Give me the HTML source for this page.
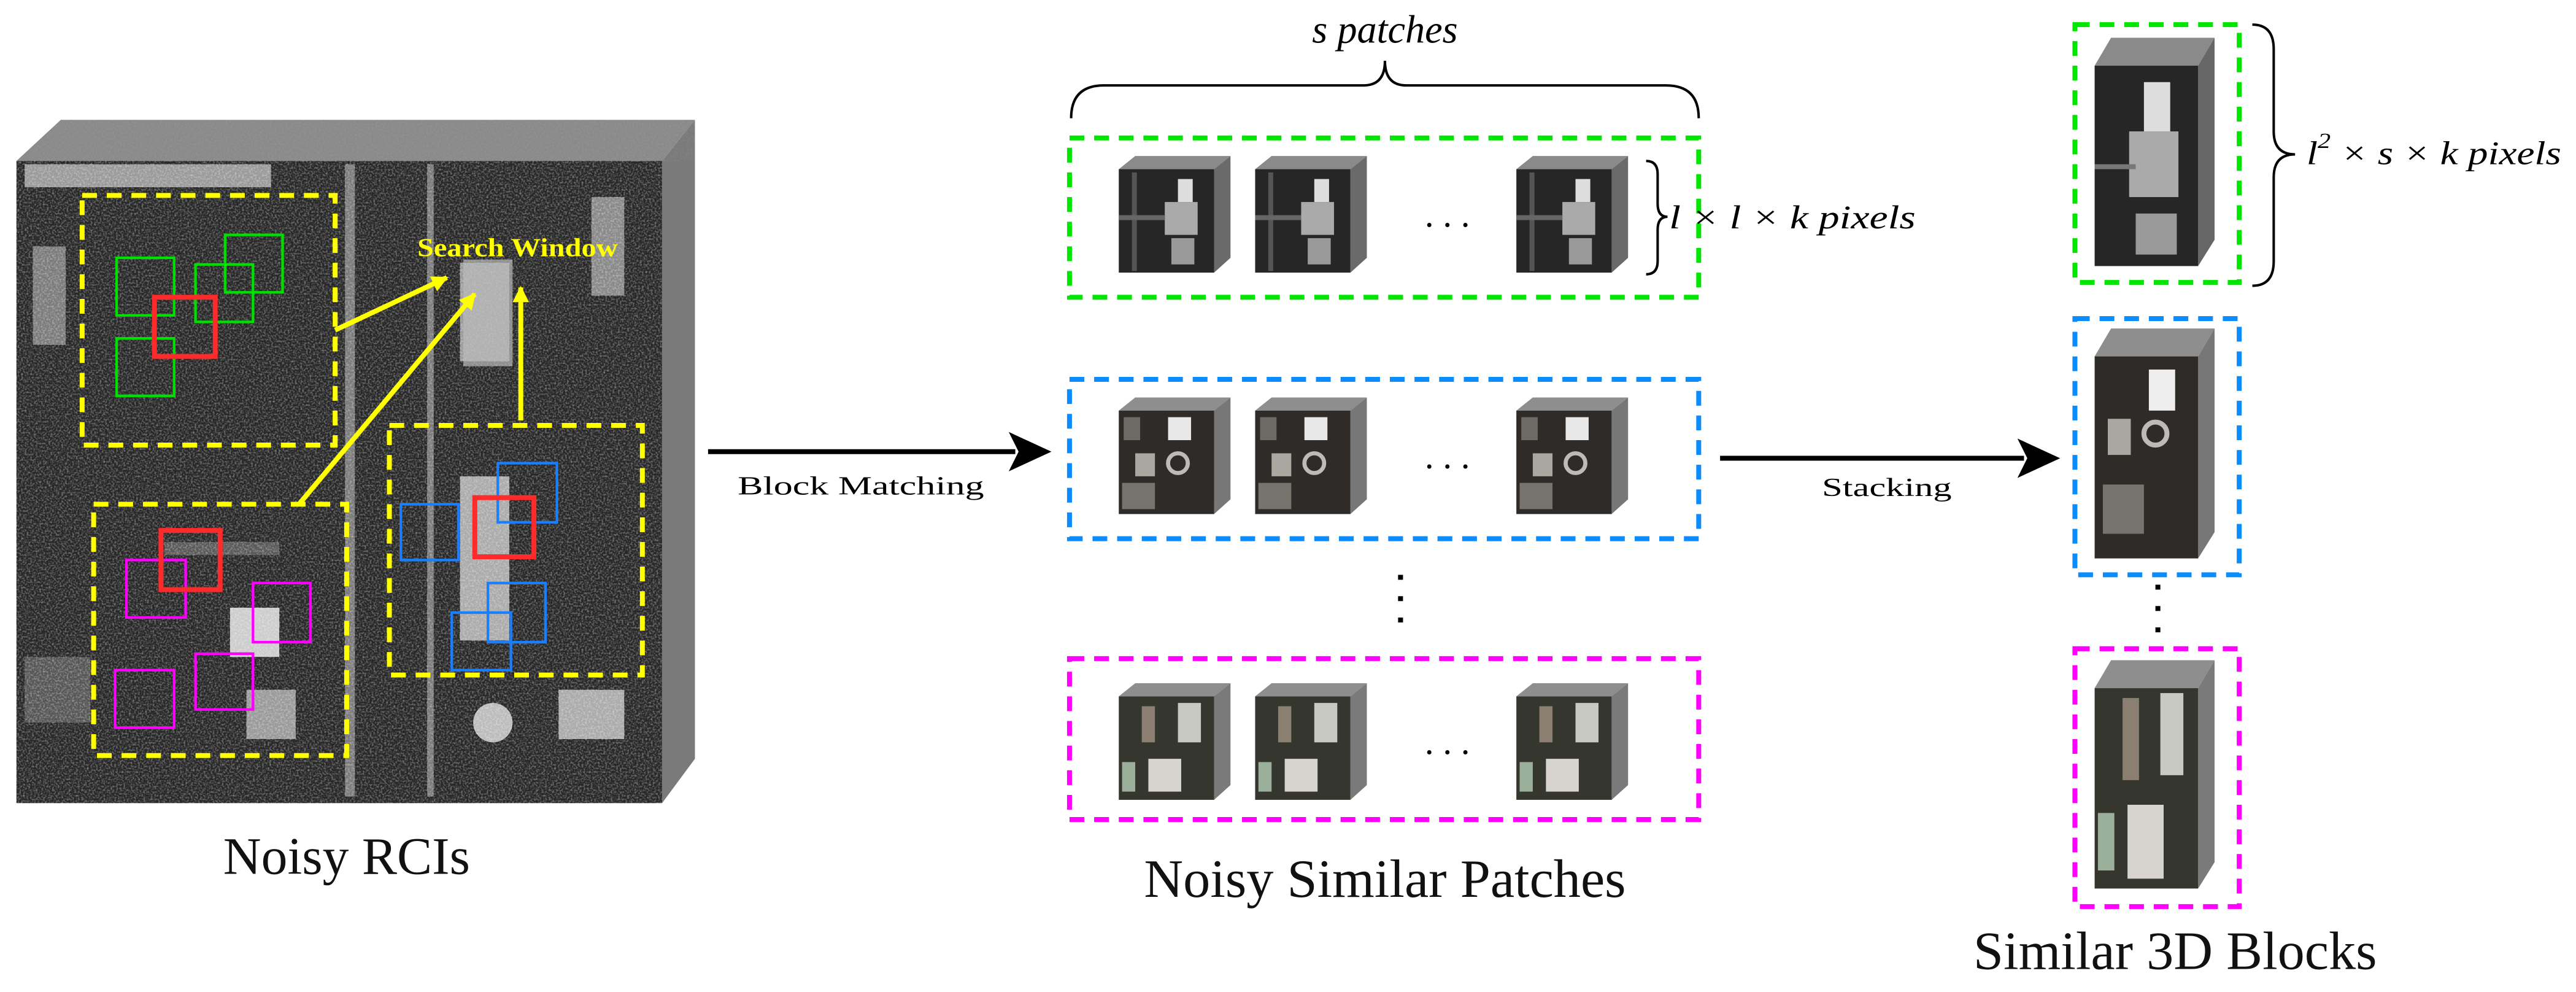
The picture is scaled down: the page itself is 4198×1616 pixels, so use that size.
<!DOCTYPE html>
<html><head><meta charset="utf-8"><style>html,body{margin:0;padding:0;background:#fff}svg{display:block}svg text{font-family:"Liberation Serif","DejaVu Serif",serif}</style></head>
<body>
<svg width="4198" height="1616" viewBox="0 0 1568 604" preserveAspectRatio="none" xmlns="http://www.w3.org/2000/svg">
<defs>
<filter id="n" x="0" y="0" width="100%" height="100%">
<feTurbulence type="fractalNoise" baseFrequency="0.9" numOctaves="2" seed="3"/>
<feColorMatrix type="matrix" values="0 0 0 0 1  0 0 0 0 1  0 0 0 0 1  0 0 0 1.1 -0.45"/>
</filter>
<marker id="ah" markerWidth="10" markerHeight="10" refX="9" refY="5" orient="auto" markerUnits="userSpaceOnUse"><path d="M0,0 L10,5 L0,10 Z" fill="#ff0"/></marker>
<g id="pg">
<polygon points="0,8 10,0 68,0 58,8" fill="#8a8a8a"/>
<polygon points="58,8 68,0 68,62 58,71" fill="#6a6a6a"/>
<rect x="0" y="8" width="58" height="63" fill="#262626"/>
<rect x="8" y="10" width="3" height="60" fill="#555"/>
<rect x="36" y="14" width="9" height="14" fill="#ddd"/>
<rect x="28" y="28" width="20" height="20" fill="#aaa"/>
<rect x="32" y="50" width="14" height="16" fill="#999"/>
<rect x="0" y="36" width="28" height="3" fill="#666"/>
</g>
<g id="pb">
<polygon points="0,8 10,0 68,0 58,8" fill="#8e8e8e"/>
<polygon points="58,8 68,0 68,62 58,71" fill="#777"/>
<rect x="0" y="8" width="58" height="63" fill="#2e2b29"/>
<rect x="3" y="12" width="10" height="14" fill="#6e6a66"/>
<rect x="30" y="12" width="14" height="14" fill="#e8e8e8"/>
<rect x="10" y="34" width="12" height="14" fill="#aaa6a0"/>
<circle cx="36" cy="40" r="6" fill="none" stroke="#bbb" stroke-width="2.5"/>
<rect x="2" y="52" width="20" height="16" fill="#77736d"/>
</g>
<g id="pm">
<polygon points="0,8 10,0 68,0 58,8" fill="#8e8e8e"/>
<polygon points="58,8 68,0 68,62 58,71" fill="#7a7a7a"/>
<rect x="0" y="8" width="58" height="63" fill="#35372f"/>
<rect x="14" y="14" width="8" height="22" fill="#8a7f70"/>
<rect x="36" y="12" width="14" height="24" fill="#c9c9c4"/>
<rect x="18" y="46" width="20" height="20" fill="#d6d4cc"/>
<rect x="2" y="48" width="8" height="18" fill="#9ab09a"/>
</g>
</defs>

<polygon points="10,98 37,73 423,73 403,98" fill="#8a8a8a"/>
<polygon points="403,98 423,73 423,462 403,489" fill="#7a7a7a"/>
<rect x="10" y="98" width="393" height="391" fill="#262626"/>
<g fill="#7a7a7a">
<rect x="20" y="150" width="20" height="60"/><rect x="100" y="330" width="70" height="8" opacity=".6"/>
<rect x="210" y="100" width="6" height="385"/><rect x="260" y="100" width="4" height="385"/>
<rect x="140" y="370" width="30" height="30" fill="#ccc"/><rect x="150" y="420" width="30" height="30" fill="#999"/>
<rect x="280" y="160" width="30" height="60" fill="#999"/><rect x="280" y="290" width="30" height="100" fill="#aaa"/>
<circle cx="300" cy="440" r="12" fill="#bbb"/><rect x="340" y="420" width="40" height="30" fill="#aaa"/>
<rect x="15" y="400" width="40" height="40" fill="#555"/><rect x="360" y="120" width="20" height="60" fill="#888"/>
<rect x="15" y="100" width="150" height="14" fill="#999"/>
</g>
<rect x="10" y="98" width="393" height="391" filter="url(#n)" opacity="0.85"/>
<polygon points="10,98 37,73 423,73 403,98" fill="#000" opacity=".15" filter="url(#n)"/>
<g fill="none" stroke="#ffff00" stroke-width="3" stroke-dasharray="9,6">
<rect x="50" y="119" width="154" height="152"/>
<rect x="57" y="307" width="154" height="153"/>
<rect x="237" y="259" width="154" height="152"/>
</g>
<rect x="282" y="158" width="30" height="65" fill="#bbb" opacity=".7"/>
<g fill="none" stroke-width="1.6">
<g stroke="#00e000"><rect x="71" y="157" width="35" height="35"/><rect x="71" y="206" width="35" height="35"/><rect x="119" y="161" width="35" height="35"/><rect x="137" y="143" width="35" height="35"/></g>
<g stroke="#f0f"><rect x="77" y="341" width="36" height="35"/><rect x="154" y="355" width="35" height="36"/><rect x="70" y="408" width="36" height="35"/><rect x="119" y="398" width="35" height="34"/></g>
<g stroke="#1a7fff"><rect x="244" y="307" width="35" height="34"/><rect x="303" y="282" width="36" height="36"/><rect x="297" y="355" width="35" height="36"/><rect x="275" y="373" width="36" height="35"/></g>
<g stroke="#ff2a2a" stroke-width="3"><rect x="94" y="181" width="37" height="36"/><rect x="98" y="323" width="36" height="36"/><rect x="289" y="303" width="36" height="36"/></g>
</g>
<g stroke="#ff0" stroke-width="3" marker-end="url(#ah)">
<line x1="204" y1="201" x2="272" y2="169"/>
<line x1="182" y1="307" x2="289" y2="179"/>
<line x1="317" y1="256" x2="317" y2="175"/>
</g>
<text x="254" y="156" font-size="16" font-weight="bold" fill="#ff0" textLength="122" lengthAdjust="spacingAndGlyphs">Search Window</text>
<text x="211" y="532" font-size="32" text-anchor="middle" fill="#111">Noisy RCIs</text>

<line x1="431" y1="275" x2="618" y2="275" stroke="#000" stroke-width="3"/>
<polygon points="640,275 614,263 620,275 614,287" fill="#000"/>
<text x="449" y="301" font-size="16" textLength="150" lengthAdjust="spacingAndGlyphs">Block  Matching</text>

<path d="M652,72 Q652,52 672,52 L830,52 Q843,52 843,37 Q843,52 856,52 L1014,52 Q1034,52 1034,72" fill="none" stroke="#000" stroke-width="1.5"/>
<text x="843" y="26" font-size="24" font-style="italic" text-anchor="middle">s patches</text>

<g fill="none" stroke-width="3" stroke-dasharray="9,6">
<rect x="651" y="84" width="383" height="97" stroke="#00e600"/>
<rect x="651" y="231" width="383" height="97" stroke="#0a8cff"/>
<rect x="651" y="401" width="383" height="98" stroke="#ff00ff"/>
</g>
<use href="#pg" x="681" y="95"/><use href="#pg" x="764" y="95"/><use href="#pg" x="923" y="95"/>
<use href="#pb" x="681" y="242"/><use href="#pb" x="764" y="242"/><use href="#pb" x="923" y="242"/>
<use href="#pm" x="681" y="416"/><use href="#pm" x="764" y="416"/><use href="#pm" x="923" y="416"/>
<g font-size="22" text-anchor="middle"><text x="881" y="138">. . .</text><text x="881" y="285">. . .</text><text x="881" y="459">. . .</text></g>
<g fill="#000"><rect x="851" y="350" width="3" height="3"/><rect x="851" y="363" width="3" height="3"/><rect x="851" y="376" width="3" height="3"/></g>
<path d="M1002,98 Q1009,98 1009,106 L1009,124 Q1009,132 1015,132 Q1009,132 1009,140 L1009,159 Q1009,167 1002,167" fill="none" stroke="#000" stroke-width="1.5"/>
<text x="1016" y="139" font-size="20" font-style="italic" textLength="150" lengthAdjust="spacingAndGlyphs">l × l × k  pixels</text>
<text x="843" y="546" font-size="33" text-anchor="middle" fill="#111">Noisy Similar Patches</text>

<line x1="1047" y1="279" x2="1232" y2="279" stroke="#000" stroke-width="3"/>
<polygon points="1254,279 1228,267 1234,279 1228,291" fill="#000"/>
<text x="1109" y="302" font-size="16" textLength="79" lengthAdjust="spacingAndGlyphs">Stacking</text>

<g fill="none" stroke-width="3" stroke-dasharray="9,6">
<rect x="1263" y="15" width="100" height="157" stroke="#00e600"/>
<rect x="1263" y="194" width="100" height="156" stroke="#0a8cff"/>
<rect x="1263" y="395" width="100" height="157" stroke="#ff00ff"/>
</g>
<g>
<polygon points="1275,40 1285,23 1348,23 1338,40" fill="#8a8a8a"/><polygon points="1338,40 1348,23 1348,146 1338,162" fill="#666"/>
<rect x="1275" y="40" width="63" height="122" fill="#262626"/>
<rect x="1305" y="50" width="16" height="30" fill="#ddd"/><rect x="1296" y="80" width="30" height="40" fill="#aaa"/><rect x="1275" y="100" width="25" height="3" fill="#777"/><rect x="1300" y="130" width="25" height="25" fill="#999"/>
</g>
<g>
<polygon points="1275,217 1285,200 1348,200 1338,217" fill="#8e8e8e"/><polygon points="1338,217 1348,200 1348,324 1338,340" fill="#777"/>
<rect x="1275" y="217" width="63" height="123" fill="#2e2b29"/>
<rect x="1308" y="225" width="16" height="25" fill="#eee"/><rect x="1283" y="255" width="14" height="22" fill="#aaa6a0"/><circle cx="1312" cy="264" r="7" fill="none" stroke="#bbb" stroke-width="3"/><rect x="1280" y="295" width="25" height="30" fill="#77736d"/>
</g>
<g>
<polygon points="1275,419 1285,402 1348,402 1338,419" fill="#8e8e8e"/><polygon points="1338,419 1348,402 1348,525 1338,541" fill="#7a7a7a"/>
<rect x="1275" y="419" width="63" height="122" fill="#35372f"/>
<rect x="1292" y="425" width="10" height="50" fill="#8a7f70"/><rect x="1315" y="422" width="14" height="50" fill="#c9c9c4"/><rect x="1295" y="490" width="22" height="45" fill="#d6d4cc"/><rect x="1277" y="495" width="10" height="35" fill="#9ab09a"/>
</g>
<g fill="#000"><rect x="1312" y="356" width="3" height="3"/><rect x="1312" y="369" width="3" height="3"/><rect x="1312" y="382" width="3" height="3"/></g>
<path d="M1371,15 Q1384,15 1384,30 L1384,80 Q1384,94 1397,94 Q1384,94 1384,108 L1384,159 Q1384,174 1371,174" fill="none" stroke="#000" stroke-width="1.5"/>
<text x="1404" y="100" font-size="20" font-style="italic" textLength="155" lengthAdjust="spacingAndGlyphs">l<tspan font-size="13" dy="-10">2</tspan><tspan dy="10"> × s × k  pixels</tspan></text>
<text x="1324" y="590" font-size="33" text-anchor="middle" fill="#111">Similar 3D Blocks</text>
</svg>
</body></html>
